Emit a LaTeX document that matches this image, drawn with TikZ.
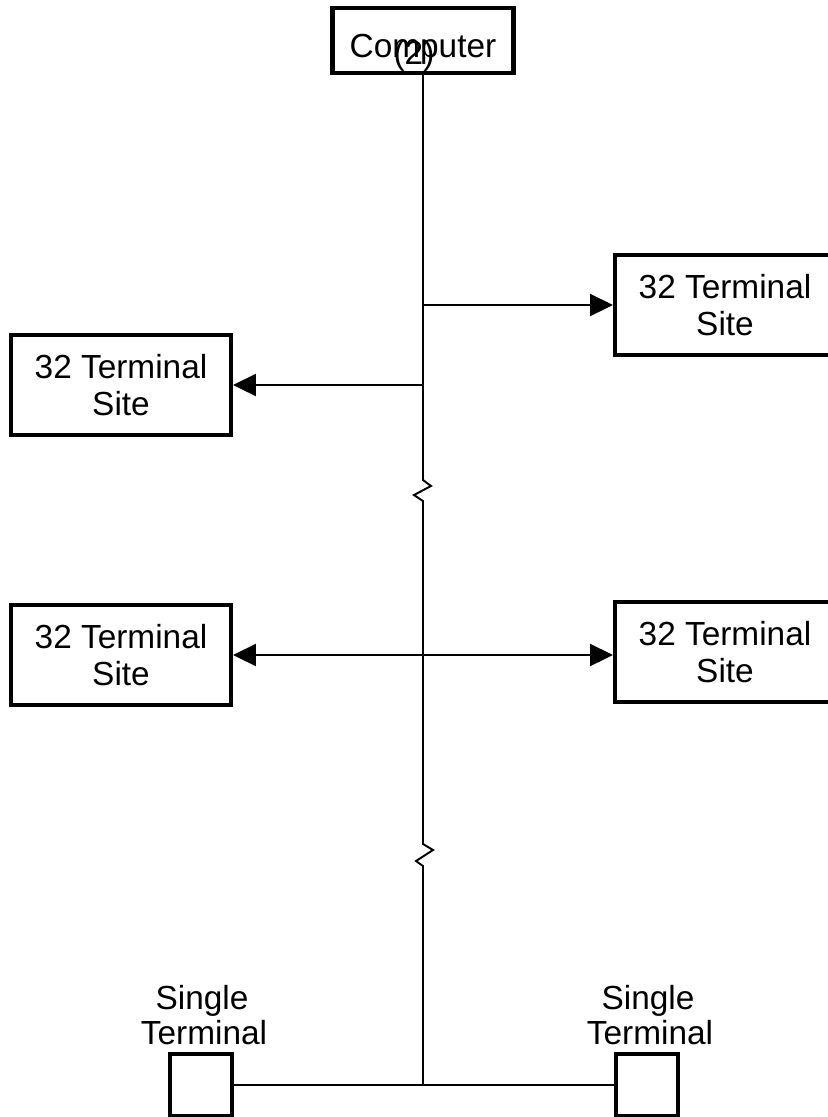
\documentclass[tikz,border=0pt]{standalone}
\usepackage{fontspec}
\setmainfont{Liberation Sans}
\usetikzlibrary{arrows.meta}
\tikzset{
  box/.style={draw, line width=2.3pt, inner sep=0pt, align=center},
  site/.style={box, minimum width=4.4cm, minimum height=2cm},
  single/.style={box, minimum width=1.24cm, minimum height=1.24cm},
  trunk/.style={line width=1.1pt},
  feed/.style={line width=1.3pt, -{Triangle[length=0.46cm,width=0.44cm]}},
  both/.style={line width=1.3pt, {Triangle[length=0.46cm,width=0.44cm]}-{Triangle[length=0.46cm,width=0.44cm]}},
}
\begin{document}
\begin{tikzpicture}[x=0.02cm, y=-0.02cm, font=\fontsize{19}{21.5}\selectfont]
		\useasboundingbox (0,0) rectangle (828,1117);
		%Computer
		\node[box, minimum width=3.62cm, minimum height=1.3cm] (comp) at (423,40.5) {};
		\node[anchor=base] (compname) at (423,57) {Computer};
		\node[anchor=base] (compnum) at (414,64) {(2)};
		%Sites
		\node[site] (siteTR) at (725,305) {32 Terminal\\Site};
		\node[site] (siteTL) at (121,385) {32 Terminal\\Site};
		\node[site] (siteML) at (121,655) {32 Terminal\\Site};
		\node[site] (siteMR) at (725,652) {32 Terminal\\Site};
		%Single terminals
		\node[single] (termL) at (201,1085) {};
		\node[single] (termR) at (647,1085) {};
		\node[anchor=base] (labL) at (202,1009) {Single};
		\node[anchor=base] (labL2) at (204,1044) {Terminal};
		\node[anchor=base] (labR) at (648,1009) {Single};
		\node[anchor=base] (labR2) at (650,1044) {Terminal};
		%Trunk with breaks
		\coordinate (tapTR) at (423,305);
		\coordinate (tapTL) at (423,385);
		\coordinate (bus) at (423,1085);
		\draw[trunk] (comp.south) -- (423,480) -- (431,486) -- (414,495) -- (423,501)
			-- (423,844) -- (433,850) -- (416,861) -- (423,866) -- (bus);
		%Links
		\draw[feed] (tapTR) -- (siteTR.west);
		\draw[feed] (tapTL) -- (siteTL.east);
		\draw[both] (siteML.east) -- (siteMR.west |- siteML.east);
		\draw[trunk] (termL.east) -- (termR.west);
\end{tikzpicture}
\end{document}
